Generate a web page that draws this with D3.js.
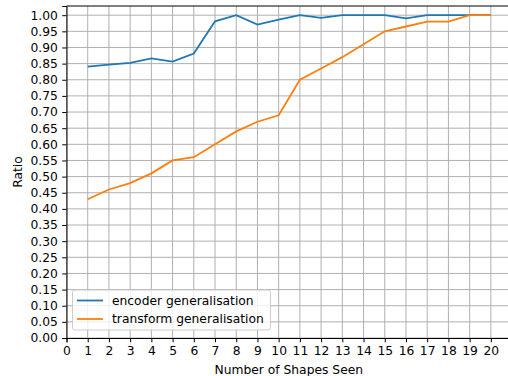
<!DOCTYPE html>
<html>
<head>
<meta charset="utf-8">
<script src="https://cdn.jsdelivr.net/npm/d3@7"></script>
<style>
  body { margin: 0; background: #fff; }
  svg { font-family: "DejaVu Sans", sans-serif; }
</style>
</head>
<body>
<svg id="chart" width="508" height="376"></svg>
<script>
// data
const shapesSeen = [1,2,3,4,5,6,7,8,9,10,11,12,13,14,15,16,17,18,19,20];
const encoderGen = [0.841,0.847,0.852,0.866,0.856,0.881,0.981,1.0,0.971,0.986,1.0,0.992,1.0,1.0,1.0,0.99,1.0,1.0,1.0,1.0];
const transformGen = [0.43,0.46,0.48,0.51,0.55,0.56,0.60,0.64,0.67,0.69,0.80,0.835,0.87,0.91,0.95,0.965,0.98,0.98,1.0,1.0];
const xTicks = d3.range(0, 21);
const yTicks = d3.range(0, 1.0001, 0.05);

const plotL = 66.5, plotT = 6, plotB = 338, plotR = 511;
const fs = "12.3px";
const svg = d3.select("#chart");

const x = d3.scaleLinear().domain([0, 20.95]).range([plotL, plotR]);
const y = d3.scaleLinear().domain([0, 1.0285]).range([plotB, plotT]);

// grid
const grid = svg.append("g");
grid.selectAll("line.vx").data(xTicks).enter().append("line")
  .attr("x1", d => x(d)).attr("x2", d => x(d))
  .attr("y1", plotT).attr("y2", plotB)
  .attr("stroke", "#b0b0b0").attr("stroke-width", 1);
grid.selectAll("line.hy").data(yTicks).enter().append("line")
  .attr("x1", plotL).attr("x2", plotR)
  .attr("y1", d => y(d)).attr("y2", d => y(d))
  .attr("stroke", "#b0b0b0").attr("stroke-width", 1);

// lines
const line = d3.line().x((d, i) => x(shapesSeen[i])).y(d => y(d));
svg.append("path").datum(encoderGen).attr("d", line)
  .attr("fill", "none").attr("stroke", "#1f77b4").attr("stroke-width", 1.8);
svg.append("path").datum(transformGen).attr("d", line)
  .attr("fill", "none").attr("stroke", "#ff7f0e").attr("stroke-width", 1.8);

// axes
const xAxis = svg.append("g").attr("transform", "translate(0," + plotB + ")")
  .call(d3.axisBottom(x).tickValues(xTicks).tickFormat(d3.format("d")).tickSize(4.3).tickPadding(4.3));
const yAxis = svg.append("g").attr("transform", "translate(" + plotL + ",0)")
  .call(d3.axisLeft(y).tickValues(yTicks).tickFormat(d3.format(".2f")).tickSize(4.3).tickPadding(4.3));
[xAxis, yAxis].forEach(a => {
  a.select(".domain").attr("stroke", "#000").attr("stroke-width", 1);
  a.selectAll(".tick line").attr("stroke", "#000").attr("stroke-width", 1);
  a.selectAll("text").attr("fill", "#000").style("font-size", fs).style("font-family", "DejaVu Sans");
});
// top spine
svg.append("line").attr("x1", plotL).attr("x2", plotR).attr("y1", plotT).attr("y2", plotT)
  .attr("stroke", "#000").attr("stroke-width", 1);

// labels
svg.append("text").attr("x", (plotL + plotR) / 2).attr("y", 373.5)
  .attr("text-anchor", "middle").style("font-size", fs).text("Number of Shapes Seen");
svg.append("text").attr("transform", "translate(22," + (plotT + plotB) / 2 + ") rotate(-90)")
  .attr("text-anchor", "middle").style("font-size", fs).text("Ratio");

// legend
const lg = svg.append("g");
lg.append("rect").attr("x", 72.5).attr("y", 290).attr("width", 198).attr("height", 40)
  .attr("rx", 2.5).attr("fill", "#fff").attr("fill-opacity", 0.8)
  .attr("stroke", "#cccccc").attr("stroke-width", 1);
const entries = [["encoder generalisation", "#1f77b4"], ["transform generalisation", "#ff7f0e"]];
entries.forEach((e, i) => {
  const yy = 300.5 + i * 18.5;
  lg.append("line").attr("x1", 77).attr("x2", 103).attr("y1", yy).attr("y2", yy)
    .attr("stroke", e[1]).attr("stroke-width", 1.8);
  lg.append("text").attr("x", 112).attr("y", yy + 4.4).style("font-size", fs).text(e[0]);
});
</script>
</body>
</html>
